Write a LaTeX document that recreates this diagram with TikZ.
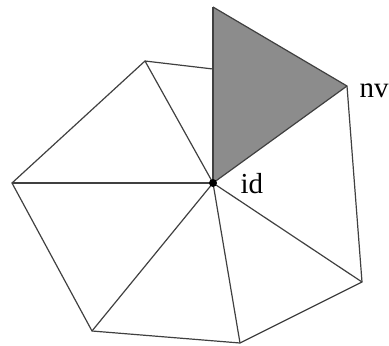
\documentclass[tikz,border=0pt]{standalone}
\usepackage{fontspec}
\setmainfont{Liberation Serif}
\usepackage{tikz}

\begin{document}
\begin{tikzpicture}[x=1pt,y=-1pt,line width=1.2pt]
  \useasboundingbox (0,0) rectangle (389,346);
  \coordinate (c) at (213,183);
  \coordinate (t) at (213,7);
  \coordinate (nv) at (347,86);
  \coordinate (r) at (362,282);
  \coordinate (b) at (240,343);
  \coordinate (bl) at (92,331);
  \coordinate (l) at (12,183);
  \coordinate (tl) at (145,61);
  \coordinate (h) at (213,69);
  \fill[black!45] (c)--(t)--(nv)--cycle;
  \draw[black!75] (t)--(nv)--(r)--(b)--(bl)--(l)--(tl)--(h);
  \foreach \v in {t,nv,r,b,bl,l,tl}{
    \draw[black!75] (c)--(\v);
  }
  \node[circle,fill,inner sep=0pt,minimum size=8pt] (id) at (c) {};
  \node[anchor=base west,font=\fontsize{29}{31}\selectfont,inner sep=0pt] (idlab) at (240,193) {id};
  \node[anchor=base west,font=\fontsize{29}{31}\selectfont,inner sep=0pt] (nvlab) at (359,97) {nv};
\end{tikzpicture}
\end{document}
